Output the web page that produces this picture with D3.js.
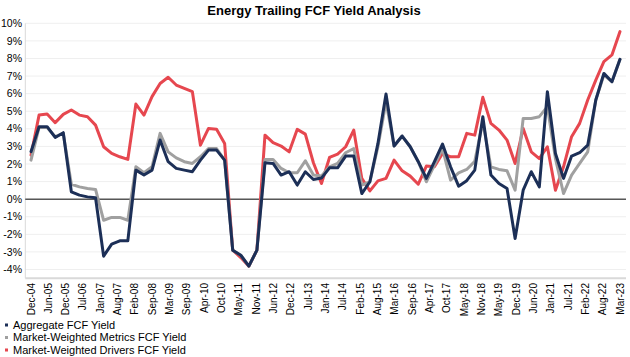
<!DOCTYPE html>
<html><head><meta charset="utf-8">
<script src="https://cdn.jsdelivr.net/npm/d3@7"></script>
<style>
body{margin:0;background:#fff}
svg{display:block;font-family:"Liberation Sans",Arial,sans-serif}
</style>
</head><body>
<svg id="c" width="630" height="357"></svg>
<script>
const title = "Energy Trailing FCF Yield Analysis";
const tickLabels = ["Dec-04","Jun-05","Dec-05","Jul-06","Jan-07","Aug-07","Feb-08","Sep-08","Mar-09","Sep-09","Apr-10","Oct-10","May-11","Nov-11","Jun-12","Dec-12","Jul-13","Jan-14","Jul-14","Feb-15","Aug-15","Mar-16","Sep-16","Apr-17","Oct-17","May-18","Nov-18","May-19","Dec-19","Jun-20","Jan-21","Jul-21","Feb-22","Aug-22","Mar-23"];
const seriesNames = ["Aggregate FCF Yield","Market-Weighted Metrics FCF Yield","Market-Weighted Drivers FCF Yield"];
const aggregate = [2.7,4.12,4.12,3.51,3.78,0.42,0.23,0.13,0.08,-3.24,-2.56,-2.37,-2.37,1.65,1.37,1.65,3.36,2.13,1.75,1.65,1.56,2.22,2.79,2.79,2.22,-2.9,-3.19,-3.81,-2.9,2.07,2.03,1.37,1.56,0.8,1.56,1.12,1.2,1.78,1.78,2.45,2.45,0.32,0.99,3.17,5.98,3.02,3.59,2.98,2.13,1.18,2.13,3.13,1.84,0.74,1.05,1.65,4.69,1.37,0.89,0.61,-2.24,0.51,1.56,0.7,6.11,2.6,1.18,2.45,2.64,3.07,5.64,7.15,6.68,7.95];
const metrics = [2.22,4.08,4.08,3.55,3.74,0.85,0.7,0.61,0.55,-1.2,-1.04,-1.04,-1.2,1.84,1.5,1.84,3.74,2.69,2.35,2.13,2.03,2.41,2.88,2.88,2.22,-2.9,-3.19,-3.81,-2.9,2.26,2.26,1.75,1.5,1.5,2.18,1.37,1.32,1.84,2.03,2.64,2.88,0.8,0.99,2.98,5.54,3.02,3.59,2.98,2.13,0.99,1.94,2.88,1.08,1.5,1.69,2.15,4.4,1.84,1.69,1.61,0.51,4.59,4.59,4.69,5.26,2.31,0.32,1.37,2.03,2.69,5.64,7.06,6.68,7.95];
const drivers = [2.5,4.78,4.84,4.35,4.82,5.07,4.78,4.69,4.21,2.98,2.6,2.41,2.26,5.41,4.78,5.83,6.58,6.93,6.49,6.3,6.11,3.07,4.02,3.97,3.17,-2.9,-3.32,-3.81,-2.9,3.64,3.21,3.02,2.69,3.97,3.7,2.07,0.89,2.37,2.56,2.98,3.93,1.18,0.47,1.04,1.18,2.22,1.61,1.31,0.85,1.88,1.84,2.6,2.41,2.41,3.74,3.64,5.79,4.31,3.93,3.36,2.03,4.02,2.69,2.31,2.98,0.51,1.84,3.55,4.31,5.64,6.77,7.82,8.2,9.53];
const yTicks = [-4,-3,-2,-1,0,1,2,3,4,5,6,7,8,9,10];
const colors = ["#1c2f57","#a0a0a0","#e6474f"];

const svg = d3.select("#c");
const n = aggregate.length;
const x = d3.scaleLinear().domain([0, n - 1]).range([31, 620]);
const y = d3.scaleLinear().domain([-4.5, 10]).range([278.3, 23.3]);
const plotL = 25.3, plotR = 626;

// title
svg.append("text").attr("x", 314).attr("y", 15).attr("text-anchor", "middle")
  .attr("font-size", 13).attr("font-weight", "bold").attr("fill", "#000").text(title);

// gridlines
svg.append("g").selectAll("line").data(yTicks.filter(d => d !== 0)).join("line")
  .attr("x1", plotL).attr("x2", plotR)
  .attr("y1", d => y(d)).attr("y2", d => y(d))
  .attr("stroke", "#efefef").attr("stroke-width", 1);

// y labels
svg.append("g").selectAll("text").data(yTicks).join("text")
  .attr("x", 22).attr("y", d => y(d)).attr("dy", "0.35em")
  .attr("text-anchor", "end").attr("font-size", 10.5).attr("fill", "#000")
  .text(d => d + "%");

// axes lines
svg.append("line").attr("x1", plotL).attr("x2", plotL).attr("y1", y(10)).attr("y2", y(-4.5))
  .attr("stroke", "#d9d9d9").attr("stroke-width", 1);
svg.append("line").attr("x1", plotL).attr("x2", plotR).attr("y1", y(-4.5)).attr("y2", y(-4.5))
  .attr("stroke", "#d9d9d9").attr("stroke-width", 2);

// x labels
const step = (n - 1) / (tickLabels.length - 1);
svg.append("g").selectAll("text").data(tickLabels).join("text")
  .attr("transform", (d, i) => `translate(${x(i * step)},283) rotate(-90)`)
  .attr("dy", "0.35em").attr("text-anchor", "end")
  .attr("font-size", 10).attr("fill", "#000").text(d => d);

// zero line
svg.append("line").attr("x1", plotL).attr("x2", plotR).attr("y1", y(0)).attr("y2", y(0))
  .attr("stroke", "#000").attr("stroke-width", 1);

// series lines (drivers bottom, aggregate top)
const line = d3.line().x((d, i) => x(i)).y(d => y(d));
const series = [aggregate, metrics, drivers];
[2, 1, 0].forEach(k => {
  svg.append("path").datum(series[k]).attr("d", line)
    .attr("fill", "none").attr("stroke", colors[k]).attr("stroke-width", 3)
    .attr("stroke-linejoin", "round").attr("stroke-linecap", "round");
});

// legend
const lg = svg.append("g").selectAll("g").data(seriesNames).join("g")
  .attr("transform", (d, i) => `translate(0,${325 + i * 12.5})`);
lg.append("rect").attr("x", 5).attr("y", -1.5).attr("width", 3).attr("height", 3)
  .attr("fill", (d, i) => colors[i]);
lg.append("text").attr("x", 13).attr("y", 0).attr("dy", "0.35em")
  .attr("font-size", 11).attr("fill", "#000").text(d => d);
</script>
</body></html>
